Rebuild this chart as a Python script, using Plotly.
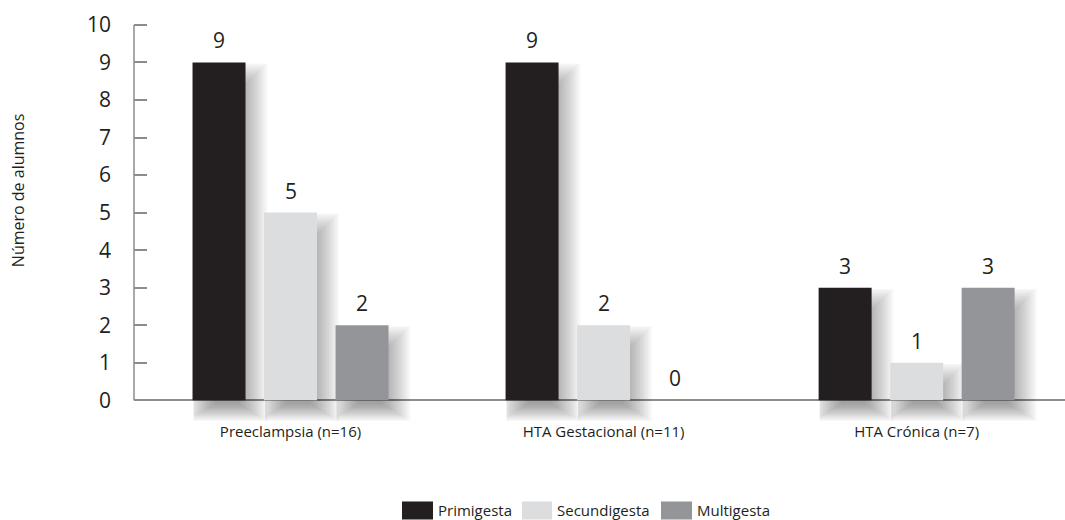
import plotly.graph_objects as go

# Data
categories = ["Preeclampsia (n=16)", "HTA Gestacional (n=11)", "HTA Crónica (n=7)"]
series_names = ["Primigesta", "Secundigesta", "Multigesta"]
primigesta = [9, 9, 3]
secundigesta = [5, 2, 1]
multigesta = [2, 0, 3]
y_ticks = list(range(0, 11))

series_values = [primigesta, secundigesta, multigesta]
colors = ["#231f20", "#dcdddf", "#939598"]
text_color = "#231f20"
axis_color = "#8a8c8e"

W, H = 1065, 520
ML, MR, MT, MB = 134, 0, 23, 99.4
X_RANGE = [-0.5, 2.474]
Y_RANGE = [-0.55, 10.05]
plot_w = W - ML - MR
plot_h = H - MT - MB
px_x = plot_w / (X_RANGE[1] - X_RANGE[0])   # pixels per x unit
px_y = plot_h / (Y_RANGE[1] - Y_RANGE[0])   # pixels per y unit

bar_w = 53 / px_x
slot = 71.5 / px_x
offsets = [-slot, 0.0, slot]
xs = list(range(len(categories)))

fig = go.Figure()

# soft drop shadows (stacked translucent layers, offset right/down,
# kept from peeking out on the left and top of each bar)
shift_x, shift_y = 8, 14           # px
spreads = list(range(-14, 16, 2))  # px
for vals, off in zip(series_values, offsets):
    sx = [x for x, v in zip(xs, vals) if v > 0]
    sv = [v for v in vals if v > 0]
    for s in spreads:
        left_px = max(shift_x - s, 1)
        right_px = bar_w * px_x + shift_x + s
        width_u = (right_px - left_px) / px_x
        tops = [min(v - (shift_y - s) / px_y, v - 1 / px_y) for v in sv]
        bottom = -(4 + 0.6 * (s + 14)) / px_y
        fig.add_trace(go.Bar(
            x=sx,
            y=[t - bottom for t in tops],
            base=[bottom] * len(sv),
            width=width_u,
            offset=off - bar_w / 2 + left_px / px_x,
            marker=dict(color="rgba(0,0,0,0.027)", line=dict(width=0)),
            hoverinfo="skip",
            showlegend=False,
        ))

# main bars
for name, vals, off, col in zip(series_names, series_values, offsets, colors):
    fig.add_trace(go.Bar(
        x=xs,
        y=vals,
        name=name,
        width=bar_w,
        offset=off - bar_w / 2,
        marker=dict(color=col, line=dict(width=0)),
        showlegend=False,
    ))

annotations = []
# value labels above bars
for vals, off in zip(series_values, offsets):
    for x, v in zip(xs, vals):
        annotations.append(dict(
            x=x + off, y=v, xref="x", yref="y", text=str(v),
            showarrow=False, yanchor="bottom", yshift=6,
            font=dict(size=21, color=text_color),
        ))

# y axis title
annotations.append(dict(
    x=(18 - ML) / plot_w, y=(MT + plot_h - 190) / plot_h,
    xref="paper", yref="paper", text="Número de alumnos",
    textangle=-90, showarrow=False, xanchor="center", yanchor="middle",
    font=dict(size=16, color=text_color),
))

def px_to_paper(px, py):
    return (px - ML) / plot_w, (MT + plot_h - py) / plot_h

# legend built from shapes and labels
shapes = []
legend_items = [(402, 433), (522, 552), (661, 692)]
for (x0, x1), name, col in zip(legend_items, series_names, colors):
    a0, b0 = px_to_paper(x0, 501)
    a1, b1 = px_to_paper(x1, 519)
    shapes.append(dict(type="rect", xref="paper", yref="paper",
                       x0=a0, x1=a1, y0=b1, y1=b0,
                       fillcolor=col, line=dict(width=0)))
    tx, ty = px_to_paper(x1 + 3, 510)
    annotations.append(dict(x=tx, y=ty, xref="paper", yref="paper", text=name,
                            showarrow=False, xanchor="left", yanchor="middle",
                            font=dict(size=15, color=text_color)))

# vertical axis line from 0 to 10
shapes.append(dict(type="line", xref="paper", yref="y", x0=0, x1=0, y0=0, y1=10,
                   line=dict(color=axis_color, width=1.5)))

fig.update_layout(
    width=W, height=H,
    margin=dict(l=ML, r=MR, t=MT, b=MB),
    paper_bgcolor="white", plot_bgcolor="white",
    barmode="overlay",
    font=dict(family="Open Sans, Noto Sans, sans-serif", color=text_color),
    showlegend=False,
    annotations=annotations,
    shapes=shapes,
    xaxis=dict(
        range=X_RANGE, tickmode="array", tickvals=xs, ticktext=categories,
        showgrid=False, zeroline=False, showline=False, ticks="",
        tickfont=dict(size=15, color=text_color),
    ),
    yaxis=dict(
        range=Y_RANGE, tickmode="array", tickvals=y_ticks,
        showgrid=False, showline=False,
        zeroline=True, zerolinecolor=axis_color, zerolinewidth=1.5,
        ticks="inside", ticklen=13, tickcolor=axis_color, tickwidth=1.5,
        ticklabelstandoff=22,
        tickfont=dict(size=21, color=text_color),
    ),
)

fig.write_html("out.html")
